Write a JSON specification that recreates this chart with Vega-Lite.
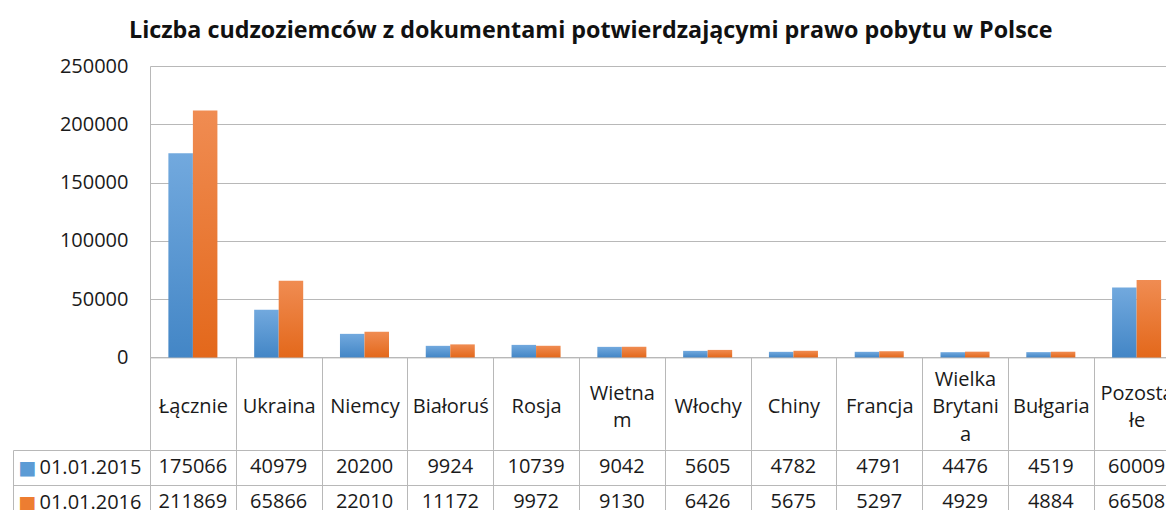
{
  "$schema": "https://vega.github.io/schema/vega-lite/v6.json",
  "background": "white",
  "padding": {"left": 12, "top": 18, "right": 0, "bottom": 0},
  "datasets": {
    "d": [
      {"category": "Łącznie", "series": "01.01.2015", "value": 175066},
      {"category": "Łącznie", "series": "01.01.2016", "value": 211869},
      {"category": "Ukraina", "series": "01.01.2015", "value": 40979},
      {"category": "Ukraina", "series": "01.01.2016", "value": 65866},
      {"category": "Niemcy", "series": "01.01.2015", "value": 20200},
      {"category": "Niemcy", "series": "01.01.2016", "value": 22010},
      {"category": "Białoruś", "series": "01.01.2015", "value": 9924},
      {"category": "Białoruś", "series": "01.01.2016", "value": 11172},
      {"category": "Rosja", "series": "01.01.2015", "value": 10739},
      {"category": "Rosja", "series": "01.01.2016", "value": 9972},
      {"category": "Wietnam", "series": "01.01.2015", "value": 9042},
      {"category": "Wietnam", "series": "01.01.2016", "value": 9130},
      {"category": "Włochy", "series": "01.01.2015", "value": 5605},
      {"category": "Włochy", "series": "01.01.2016", "value": 6426},
      {"category": "Chiny", "series": "01.01.2015", "value": 4782},
      {"category": "Chiny", "series": "01.01.2016", "value": 5675},
      {"category": "Francja", "series": "01.01.2015", "value": 4791},
      {"category": "Francja", "series": "01.01.2016", "value": 5297},
      {"category": "Wielka Brytania", "series": "01.01.2015", "value": 4476},
      {"category": "Wielka Brytania", "series": "01.01.2016", "value": 4929},
      {"category": "Bułgaria", "series": "01.01.2015", "value": 4519},
      {"category": "Bułgaria", "series": "01.01.2016", "value": 4884},
      {"category": "Pozostałe", "series": "01.01.2015", "value": 60009},
      {"category": "Pozostałe", "series": "01.01.2016", "value": 66508}
    ]
  },
  "config": {
    "font": "Open Sans",
    "view": {"stroke": null},
    "axis": {
      "labelFont": "Open Sans",
      "labelFontSize": 20,
      "labelColor": "#1a1a1a",
      "gridColor": "#b8b8b8",
      "domainColor": "#b8b8b8",
      "tickColor": "#b8b8b8",
      "gridOpacity": 1,
      "title": null
    }
  },
  "spacing": -12.5,
  "vconcat": [
    {
      "title": {
        "text": "Liczba cudzoziemców z dokumentami potwierdzającymi prawo pobytu w Polsce",
        "font": "Open Sans",
        "fontSize": 23.3,
        "fontWeight": "bold",
        "color": "#111111",
        "anchor": "middle",
        "frame": "bounds",
        "offset": 13,
        "dx": -6
      },
      "width": 1017,
      "height": 291.4,
      "data": {"name": "d"},
      "encoding": {
        "x": {
          "field": "category",
          "type": "nominal",
          "sort": null,
          "scale": {"range": [0, 1029.5], "paddingInner": 0, "paddingOuter": 0},
          "axis": {
            "domain": true,
            "ticks": true,
            "grid": false,
            "tickBand": "extent",
            "tickSize": 92,
            "labelPadding": -70,
            "labelBaseline": "middle",
            "labelAngle": 0,
            "labelLineHeight": 13.75,
            "labelLimit": 0,
            "labelOverlap": false,
            "labelFlush": false,
            "minExtent": 92,
            "maxExtent": 92,
            "labelExpr": "datum.value == 'Wietnam' ? ['\u2800', 'Wietna', '\u2800', 'm'] : datum.value == 'Wielka Brytania' ? ['Wielka', '\u2800', 'Brytani', '\u2800', 'a'] : datum.value == 'Pozostałe' ? ['\u2800', 'Pozosta', '\u2800', 'łe'] : ['\u2800', '\u2800', datum.label]"
          }
        },
        "xOffset": {
          "field": "series",
          "type": "nominal",
          "scale": {"domain": ["01.01.2015", "01.01.2016"], "paddingInner": 0, "paddingOuter": 0.75}
        },
        "y": {
          "field": "value",
          "type": "quantitative",
          "scale": {"domain": [0, 250000], "nice": false},
          "axis": {
            "values": [0, 50000, 100000, 150000, 200000, 250000],
            "format": "d",
            "grid": true,
            "ticks": false,
            "domain": true,
            "labelPadding": 22,
            "minExtent": 137,
            "maxExtent": 137
          }
        }
      },
      "layer": [
        {
          "transform": [{"filter": "datum.series == '01.01.2015'"}],
          "mark": {
            "type": "bar",
            "color": {
              "gradient": "linear", "x1": 0, "y1": 0, "x2": 0, "y2": 1,
              "stops": [{"offset": 0, "color": "#72a9de"}, {"offset": 1, "color": "#4386c6"}]
            }
          }
        },
        {
          "transform": [{"filter": "datum.series == '01.01.2016'"}],
          "mark": {
            "type": "bar",
            "color": {
              "gradient": "linear", "x1": 0, "y1": 0, "x2": 0, "y2": 1,
              "stops": [{"offset": 0, "color": "#f08c52"}, {"offset": 1, "color": "#e3681b"}]
            }
          }
        }
      ]
    },
    {
      "width": 1017,
      "height": 62,
      "data": {"name": "d"},
      "encoding": {
        "x": {
          "field": "category",
          "type": "nominal",
          "sort": null,
          "scale": {"range": [0, 1029.5], "paddingInner": 0, "paddingOuter": 0},
          "axis": {"orient": "top", "labels": false, "ticks": false, "domain": false, "grid": true, "tickBand": "extent"}
        }
      },
      "layer": [
        {
          "mark": {"type": "text", "font": "Open Sans", "fontSize": 20, "baseline": "middle", "color": "#1a1a1a"},
          "encoding": {
            "y": {
              "field": "series",
              "type": "nominal",
              "scale": {"domain": ["01.01.2015", "01.01.2016"], "range": [0, 69.4], "paddingInner": 0, "paddingOuter": 0},
              "axis": {
                "orient": "left",
                "offset": 0,
                "domain": false,
                "ticks": true,
                "tickSize": 137,
                "tickBand": "extent",
                "grid": true,
                "labels": true,
                "labelAlign": "left",
                "labelBaseline": "middle",
                "labelPadding": -26,
                "labelLimit": 0
              }
            },
            "text": {"field": "value", "type": "quantitative", "format": "d"}
          }
        },
        {
          "mark": {"type": "text", "opacity": 0, "text": " "},
          "encoding": {
            "y": {
              "field": "series",
              "type": "nominal",
              "scale": {"domain": ["01.01.2015", "01.01.2016"], "range": [0, 69.4], "paddingInner": 0, "paddingOuter": 0},
              "axis": {
                "orient": "left",
                "offset": 137,
                "domain": true,
                "ticks": false,
                "tickSize": 0,
                "grid": false,
                "labels": true,
                "labelExpr": "'■'",
                "labelFont": "DejaVu Sans",
                "labelFontSize": 19,
                "labelAlign": "center",
                "labelBaseline": "middle",
                "labelPadding": -14,
                "labelColor": {"condition": {"test": "datum.value == '01.01.2015'", "value": "#5b9bd5"}, "value": "#ed7d31"}
              }
            }
          }
        }
      ],
      "resolve": {"scale": {"y": "independent"}, "axis": {"y": "independent"}}
    }
  ]
}
